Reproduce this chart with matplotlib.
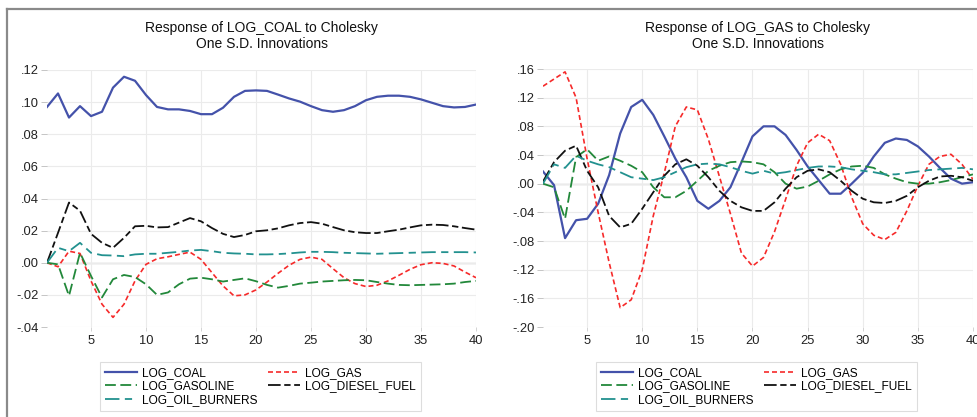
import matplotlib
matplotlib.use("Agg")
import matplotlib.pyplot as plt
from matplotlib.lines import Line2D
import numpy as np

plt.rcParams['font.family'] = ['Liberation Sans', 'DejaVu Sans']

periods = list(range(1, 41))
names = ['LOG_COAL', 'LOG_GAS', 'LOG_GASOLINE', 'LOG_DIESEL_FUEL', 'LOG_OIL_BURNERS']

# response of LOG_COAL
coal_coal = [.097, .1054, .0904, .0975, .0913, .094, .109, .1158, .1133, .1044,
             .097, .0955, .0955, .0945, .0925, .0925, .0965, .1033, .107, .1073,
             .107, .1047, .1023, .1003, .0975, .095, .094, .095, .0975, .1012,
             .1033, .104, .104, .1033, .1017, .0996, .0975, .0967, .097, .0985]
coal_gas = [0, -.0025, .0072, .0058, -.0113, -.0258, -.034, -.0258, -.0113, -.001,
            .0025, .0037, .0052, .0066, .0021, -.0062, -.0144, -.0206, -.02, -.0169,
            -.012, -.0066, -.0016, .0021, .0035, .0021, -.0037, -.0093, -.013, -.0148,
            -.014, -.0113, -.0078, -.0041, -.0012, 0, -.0004, -.002, -.0058, -.0093]
coal_gasoline = [0, -.001, -.0206, .0062, -.0082, -.0216, -.0103, -.0076, -.0089, -.0134,
                 -.02, -.0185, -.0134, -.0099, -.0093, -.0103, -.0117, -.0107, -.0097, -.0115,
                 -.0138, -.0155, -.0144, -.013, -.0124, -.0117, -.0113, -.0109, -.0107, -.0109,
                 -.012, -.013, -.0138, -.014, -.0138, -.0136, -.0134, -.013, -.012, -.0113]
coal_diesel = [0, .0186, .0375, .0324, .018, .0124, .0093, .0155, .0227, .023,
               .022, .0222, .025, .0278, .0258, .0216, .018, .016, .0173, .0196,
               .0202, .0214, .0233, .0247, .0253, .0243, .0222, .0202, .019, .0185,
               .0185, .0196, .0206, .022, .0233, .0237, .0235, .0227, .0216, .0206]
coal_oil = [0, .0093, .0072, .0124, .0062, .0047, .0045, .0041, .0052, .0056,
            .0056, .0062, .0068, .0076, .008, .0072, .0062, .0058, .0056, .0052,
            .0052, .0054, .0058, .0064, .0068, .0068, .0066, .0062, .006, .0058,
            .0056, .0058, .006, .0062, .0064, .0066, .0066, .0066, .0066, .0064]

# response of LOG_GAS
gas_coal = [.017, -.002, -.076, -.051, -.049, -.028, .012, .07, .107, .117,
            .096, .066, .035, .009, -.024, -.035, -.024, -.005, .03, .066,
            .08, .08, .068, .047, .024, .005, -.014, -.014, 0, .015,
            .038, .057, .063, .061, .052, .038, .022, .007, 0, .002]
gas_gas = [.136, .146, .156, .12, .035, -.04, -.11, -.173, -.162, -.12,
           -.045, .015, .08, .107, .103, .062, .01, -.042, -.097, -.115,
           -.103, -.067, -.022, .025, .057, .069, .06, .027, -.019, -.056,
           -.072, -.078, -.068, -.038, -.003, .027, .038, .041, .027, .006]
gas_gasoline = [0, -.005, -.049, .037, .048, .032, .038, .032, .025, .016,
                -.005, -.019, -.019, -.01, .004, .018, .025, .03, .031, .03,
                .027, .016, 0, -.007, -.004, .004, .013, .02, .024, .025,
                .022, .013, .007, .002, 0, 0, .002, .005, .009, .013]
gas_diesel = [.003, .03, .046, .053, .018, -.005, -.045, -.061, -.056, -.035,
              -.012, .011, .027, .034, .025, .009, -.01, -.024, -.033, -.038,
              -.038, -.026, -.007, .009, .018, .02, .016, .004, -.01, -.021,
              -.026, -.027, -.024, -.017, -.005, .004, .01, .011, .009, .004]
gas_oil = [0, .027, .022, .039, .032, .027, .023, .016, .009, .007,
           .005, .009, .016, .023, .027, .028, .027, .023, .018, .014,
           .018, .014, .016, .019, .022, .024, .024, .023, .02, .018,
           .016, .013, .013, .015, .017, .019, .02, .021, .022, .02]

styles = {
    'LOG_COAL': dict(color='#4452AA', linestyle='-', linewidth=1.6),
    'LOG_GAS': dict(color='#F62A2A', linestyle=(0, (3, 1.8)), linewidth=1.2),
    'LOG_GASOLINE': dict(color='#22883A', linestyle=(0, (6, 2.5)), linewidth=1.3),
    'LOG_DIESEL_FUEL': dict(color='#111111', linestyle=(0, (7, 2, 3.5, 2)), linewidth=1.3),
    'LOG_OIL_BURNERS': dict(color='#22918F', linestyle=(0, (8, 3, 4, 3)), linewidth=1.3),
}

W, H = 977, 417
fig = plt.figure(figsize=(W / 100, H / 100), dpi=100)


def make_panel(rect, series, title, yticks, yfmt, legend_x):
    ax = fig.add_axes(rect)
    lines = {}
    for name, vals in zip(names, series):
        lines[name], = ax.plot(periods, vals, label=name, **styles[name], zorder=3)
    ax.set_xlim(1, 40)
    ax.set_ylim(yticks[0], yticks[-1])
    ax.set_yticks(yticks)
    ax.set_yticklabels([yfmt(v) for v in yticks])
    ax.set_xticks([5, 10, 15, 20, 25, 30, 35, 40])
    for s in ax.spines.values():
        s.set_visible(False)
    ax.grid(True, color='#EBEBEB', linewidth=0.8, zorder=0)
    ax.axhline(0, color='#C4C4C4', linewidth=1.0, zorder=1)
    ax.tick_params(axis='y', length=4, width=0.6, color='#BBBBBB', pad=2,
                   labelsize=9.3, labelcolor='#222222')
    ax.tick_params(axis='x', length=3, width=0.6, color='#CCCCCC', pad=3,
                   labelsize=9.3, labelcolor='#222222')
    cx = (rect[0] + rect[0] + rect[2]) / 2
    fig.text(cx, 1 - 36 / H, title, ha='center', va='center', fontsize=10,
             linespacing=1.22, color='#111111')
    order = ['LOG_COAL', 'LOG_GASOLINE', 'LOG_OIL_BURNERS', 'LOG_GAS', 'LOG_DIESEL_FUEL']
    leg = fig.legend([lines[n] for n in order], order, ncol=2, loc='upper left',
                     bbox_to_anchor=(legend_x / W, 1 - 362 / H), borderaxespad=0,
                     fontsize=8.6, handlelength=2.7, handletextpad=0.4,
                     columnspacing=0.9, labelspacing=0.15, borderpad=0.4,
                     fancybox=False, framealpha=1, edgecolor='#DDDDDD')
    leg.get_frame().set_linewidth(0.8)
    return ax


def fmt_dot(v):
    s = '%.2f' % v
    if s.startswith('-0'):
        return '-' + s[2:]
    if s.startswith('0'):
        return s[1:]
    return s


left_rect = [47 / W, 1 - 327 / H, (476 - 47) / W, (327 - 70) / H]
right_rect = [543 / W, 1 - 327 / H, (973 - 543) / W, (327 - 69) / H]

make_panel(left_rect, [coal_coal, coal_gas, coal_gasoline, coal_diesel, coal_oil],
           'Response of LOG_COAL to Cholesky\nOne S.D. Innovations',
           [-.04, -.02, 0, .02, .04, .06, .08, .10, .12], fmt_dot, 100)
make_panel(right_rect, [gas_coal, gas_gas, gas_gasoline, gas_diesel, gas_oil],
           'Response of LOG_GAS to Cholesky\nOne S.D. Innovations',
           [-.20, -.16, -.12, -.08, -.04, 0, .04, .08, .12, .16], fmt_dot, 596)

# screenshot frame
fig.add_artist(Line2D([7 / W, 1], [1 - 9 / H, 1 - 9 / H], color='#8A8A8A', linewidth=1.6))
fig.add_artist(Line2D([7 / W, 7 / W], [0, 1 - 9 / H], color='#8A8A8A', linewidth=1.6))

fig.savefig('out.png', dpi=100)
